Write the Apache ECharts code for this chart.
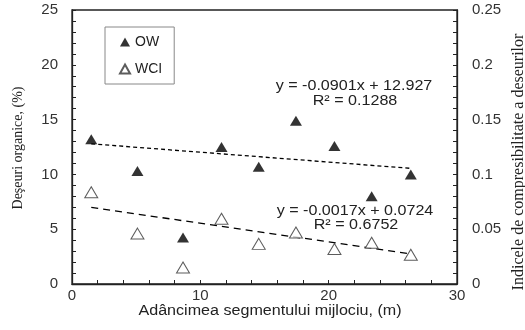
<!DOCTYPE html>
<html>
<head>
<meta charset="utf-8">
<script src="https://cdn.jsdelivr.net/npm/echarts@6/dist/echarts.min.js"></script>
<style>
  html, body { margin: 0; padding: 0; background: #fff; }
  #chart { width: 525px; height: 330px; }
</style>
</head>
<body>
<div id="chart"></div>
<script>
// adancimea (m)
var depth = [1.5, 5.1, 8.65, 11.65, 14.55, 17.45, 20.45, 23.35, 26.4];
// deseuri organice OW (%)
var owValues = [13.2, 10.3, 4.25, 12.5, 10.7, 14.9, 12.6, 8.0, 10.0];
// indicele de compresibilitate WCI
var wciValues = [0.0837, 0.046, 0.015, 0.0596, 0.0366, 0.047, 0.032, 0.0377, 0.0267];
// linii de tendinta (capete)
var owTrend = [[1.5, 12.79], [26.4, 10.55]];
var wciTrend = [[1.5, 0.0699], [26.4, 0.0275]];
var owEq = ['y = -0.0901x + 12.927', 'R² = 0.1288'];
var wciEq = ['y = -0.0017x + 0.0724', 'R² = 0.6752'];

var owData = depth.map(function (d, i) { return [d, owValues[i]]; });
var wciData = depth.map(function (d, i) { return [d, wciValues[i]]; });

var myChart = echarts.init(document.getElementById('chart'));

var axisCommon = {
  axisLine: { show: true, lineStyle: { color: '#222', width: 1.3 } },
  axisTick: { show: true, inside: true, length: 4, lineStyle: { color: '#222' } },
  minorTick: { show: true, splitNumber: 5, length: 4, lineStyle: { color: '#222' } },
  splitLine: { show: false },
  axisLabel: { fontFamily: 'Liberation Sans, Arial', fontSize: 15, color: '#333' }
};

var sans = 'Liberation Sans, Arial';
var serif = 'Liberation Serif, Times New Roman';

var option = {
  animation: false,
  grid: { left: 72, right: 68, top: 10, bottom: 46, show: true, borderColor: '#222', borderWidth: 1.3 },
  xAxis: Object.assign({}, axisCommon, {
    type: 'value', min: 0, max: 30, interval: 10,
    axisLabel: Object.assign({}, axisCommon.axisLabel, { margin: 4 })
  }),
  yAxis: [
    Object.assign({}, axisCommon, {
      type: 'value', min: 0, max: 25, interval: 5, position: 'left',
      axisLabel: Object.assign({}, axisCommon.axisLabel, { margin: 14 })
    }),
    Object.assign({}, axisCommon, {
      type: 'value', min: 0, max: 0.25, interval: 0.05, position: 'right',
      axisLabel: Object.assign({}, axisCommon.axisLabel, { margin: 15 })
    })
  ],
  legend: {
    orient: 'vertical', left: 105, top: 27,
    padding: [8, 12, 8, 14], itemGap: 13,
    itemWidth: 10, itemHeight: 9,
    borderColor: '#888', borderWidth: 1,
    textStyle: { fontFamily: sans, fontSize: 14, color: '#222' },
    data: ['OW', 'WCI']
  },
  series: [
    {
      name: 'OW', type: 'scatter', data: owData,
      symbol: 'triangle', symbolSize: [12, 10],
      itemStyle: { color: '#000' }
    },
    {
      name: 'WCI', type: 'scatter', data: wciData, yAxisIndex: 1,
      symbol: 'triangle', symbolSize: [13, 11],
      itemStyle: { color: '#fff', borderColor: '#333', borderWidth: 1 }
    },
    {
      name: 'OW trend', type: 'line', data: owTrend, symbol: 'none', silent: true,
      lineStyle: { color: '#000', width: 1.3, type: [4, 3] }, z: 1
    },
    {
      name: 'WCI trend', type: 'line', data: wciTrend, yAxisIndex: 1, symbol: 'none', silent: true,
      lineStyle: { color: '#000', width: 1.3, type: [7, 5] }, z: 1
    }
  ],
  graphic: [
    { type: 'text', x: 354, y: 86, scaleX: 1.15, style: { text: owEq[0], font: '14px ' + sans, fill: '#222', align: 'center', verticalAlign: 'middle' } },
    { type: 'text', x: 355, y: 101, scaleX: 1.15, style: { text: owEq[1], font: '14px ' + sans, fill: '#222', align: 'center', verticalAlign: 'middle' } },
    { type: 'text', x: 355, y: 211, scaleX: 1.15, style: { text: wciEq[0], font: '14px ' + sans, fill: '#222', align: 'center', verticalAlign: 'middle' } },
    { type: 'text', x: 356, y: 225, scaleX: 1.15, style: { text: wciEq[1], font: '14px ' + sans, fill: '#222', align: 'center', verticalAlign: 'middle' } },
    { type: 'text', x: 270, y: 311, scaleX: 1.15, style: { text: 'Adâncimea segmentului mijlociu, (m)', font: '14px ' + sans, fill: '#222', align: 'center', verticalAlign: 'middle' } },
    { type: 'text', x: 18, y: 148, rotation: Math.PI / 2, style: { text: 'Deşeuri organice, (%)', font: '14px ' + serif, fill: '#222', align: 'center', verticalAlign: 'middle' } },
    { type: 'text', x: 519, y: 162, rotation: Math.PI / 2, style: { text: 'Indicele de compresibilitate a deseurilor', font: '16px ' + serif, fill: '#222', align: 'center', verticalAlign: 'middle' } }
  ]
};

myChart.setOption(option);
</script>
</body>
</html>
